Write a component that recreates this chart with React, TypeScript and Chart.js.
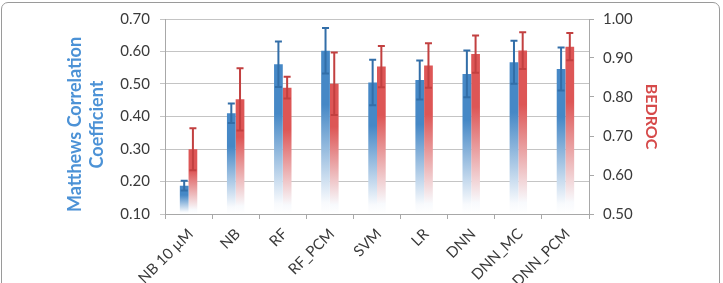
import React, { useEffect, useRef } from "react";
import { Chart, registerables } from "chart.js";

Chart.register(...registerables);

// Methods compared along the x axis
const categories = ["NB 10 µM", "NB", "RF", "RF_PCM", "SVM", "LR", "DNN", "DNN_MC", "DNN_PCM"];

// Matthews correlation coefficient (left axis) with its error
const mccValues = [0.187, 0.41, 0.561, 0.602, 0.505, 0.512, 0.531, 0.567, 0.546];
const mccErrors = [0.015, 0.03, 0.07, 0.07, 0.07, 0.06, 0.072, 0.066, 0.066];

// BEDROC score (right axis) with its error
const bedrocValues = [0.666, 0.794, 0.824, 0.834, 0.878, 0.881, 0.91, 0.919, 0.929];
const bedrocErrors = [0.054, 0.08, 0.028, 0.08, 0.053, 0.057, 0.048, 0.047, 0.035];

const leftTitle = ["Matthews Correlation", "Coefficient"];
const rightTitle = "BEDROC";

const BLUE = "rgb(70,136,198)";
const BLUE_DARK = "rgb(50,110,168)";
const RED = "rgb(221,86,86)";
const RED_DARK = "rgb(194,64,64)";
const TITLE_BLUE = "rgb(76,146,214)";
const TITLE_RED = "rgb(214,74,74)";
const TEXT = "#3a3a3a";
const FONT = "Lato, 'Open Sans', sans-serif";

// Each bar keeps its full colour near its top and fades to white at the baseline
function fade(color: string) {
  return (ctx: any) => {
    const { chart } = ctx;
    const area = chart.chartArea;
    if (!area || !ctx.parsed) return color;
    const scale = chart.scales[ctx.dataset.yAxisID];
    const top = scale.getPixelForValue(ctx.parsed.y);
    const bottom = area.bottom;
    if (!isFinite(top) || bottom - top < 1) return color;
    const g = chart.ctx.createLinearGradient(0, top, 0, bottom);
    g.addColorStop(0, color);
    g.addColorStop(0.33, color);
    g.addColorStop(0.93, "#f8fafd");
    g.addColorStop(1, "#ffffff");
    return g;
  };
}

// Draws error bars centred on each bar, using each dataset's own y axis
const errorBars = {
  id: "errorBars",
  afterDatasetsDraw(chart: any) {
    const { ctx } = chart;
    chart.data.datasets.forEach((ds: any, i: number) => {
      const meta = chart.getDatasetMeta(i);
      const scale = chart.scales[ds.yAxisID];
      ctx.save();
      ctx.strokeStyle = ds.errorColor;
      ctx.lineWidth = 2;
      meta.data.forEach((bar: any, j: number) => {
        const v = ds.data[j];
        const e = ds.errors[j];
        const yTop = scale.getPixelForValue(v + e);
        const yBot = scale.getPixelForValue(v - e);
        const x = bar.x;
        ctx.beginPath();
        ctx.moveTo(x, yTop);
        ctx.lineTo(x, yBot);
        ctx.moveTo(x - 3.5, yTop);
        ctx.lineTo(x + 3.5, yTop);
        ctx.moveTo(x - 3.5, yBot);
        ctx.lineTo(x + 3.5, yBot);
        ctx.stroke();
      });
      ctx.restore();
    });
  },
};

// Two-line rotated title for the left axis, set a little below the plot's middle
const leftAxisTitle = {
  id: "leftAxisTitle",
  afterDraw(chart: any) {
    const { ctx, chartArea } = chart;
    const scale = chart.scales.yL;
    const cy = (chartArea.top + chartArea.bottom) / 2 + 8;
    ctx.save();
    ctx.fillStyle = TITLE_BLUE;
    ctx.font = `bold 18px ${FONT}`;
    ctx.textAlign = "center";
    ctx.textBaseline = "middle";
    leftTitle.forEach((line, i) => {
      ctx.save();
      ctx.translate(scale.left + 75 + i * 22, cy);
      ctx.rotate(-Math.PI / 2);
      ctx.fillText(line, 0, 0);
      ctx.restore();
    });
    ctx.restore();
  },
};

export default function App() {
  const ref = useRef<HTMLCanvasElement>(null);

  useEffect(() => {
    if (!ref.current) return;
    const chart = new Chart(ref.current, {
      type: "bar",
      data: {
        labels: categories,
        datasets: [
          {
            label: leftTitle.join(" "),
            data: mccValues,
            errors: mccErrors,
            errorColor: BLUE_DARK,
            yAxisID: "yL",
            backgroundColor: fade(BLUE),
            borderWidth: 0,
            barPercentage: 1,
            categoryPercentage: 0.37,
          } as any,
          {
            label: rightTitle,
            data: bedrocValues,
            errors: bedrocErrors,
            errorColor: RED_DARK,
            yAxisID: "yR",
            backgroundColor: fade(RED),
            borderWidth: 0,
            barPercentage: 1,
            categoryPercentage: 0.37,
          } as any,
        ],
      },
      options: {
        animation: false,
        responsive: false,
        maintainAspectRatio: false,
        layout: { padding: { top: 19, left: 0, right: 0, bottom: 0 } },
        plugins: { legend: { display: false }, tooltip: { enabled: false } },
        scales: {
          x: {
            offset: true,
            grid: {
              display: true,
              offset: true,
              drawOnChartArea: false,
              drawTicks: true,
              tickLength: 5,
              color: "#a8a8a8",
            },
            border: { display: true, color: "#a8a8a8" },
            ticks: {
              maxRotation: 45,
              minRotation: 45,
              padding: 6,
              labelOffset: 2,
              color: TEXT,
              font: { family: FONT, size: 15 },
              autoSkip: false,
            },
            afterFit: (s: any) => {
              s.height = 69;
            },
          },
          yL: {
            position: "left",
            min: 0.1,
            max: 0.7,
            ticks: {
              stepSize: 0.1,
              padding: 10,
              color: TEXT,
              font: { family: FONT, size: 15 },
              callback: (v: any) => Number(v).toFixed(2),
            },
            grid: { color: "#c4c4c4", tickLength: 5, drawTicks: true },
            border: { display: true, color: "#a8a8a8" },
            afterFit: (s: any) => {
              s.width = 165;
            },
          },
          yR: {
            position: "right",
            min: 0.5,
            max: 1.0,
            ticks: {
              stepSize: 0.1,
              padding: 9,
              color: TEXT,
              font: { family: FONT, size: 15 },
              callback: (v: any) => Number(v).toFixed(2),
            },
            grid: { drawOnChartArea: false, drawTicks: true, tickLength: 5, color: "#a8a8a8" },
            border: { display: true, color: "#a8a8a8" },
            title: {
              display: true,
              text: rightTitle,
              color: TITLE_RED,
              font: { family: FONT, size: 16, weight: "bold", lineHeight: 1.375 },
              padding: { top: 61, bottom: 0 },
            },
            afterFit: (s: any) => {
              s.width = 134;
            },
          },
        },
      } as any,
      plugins: [errorBars, leftAxisTitle],
    });
    return () => chart.destroy();
  }, []);

  return (
    <div
      style={{
        position: "fixed",
        left: 0,
        top: 0,
        width: 723,
        height: 283,
        background: "#fff",
        overflow: "hidden",
      }}
    >
      <canvas ref={ref} width={723} height={283} style={{ display: "block" }} />
      <div
        style={{
          position: "absolute",
          left: 1,
          top: 2,
          width: 719,
          height: 300,
          border: "1px solid #9a9a9a",
          borderRadius: 7,
          boxSizing: "border-box",
          pointerEvents: "none",
        }}
      />
    </div>
  );
}
